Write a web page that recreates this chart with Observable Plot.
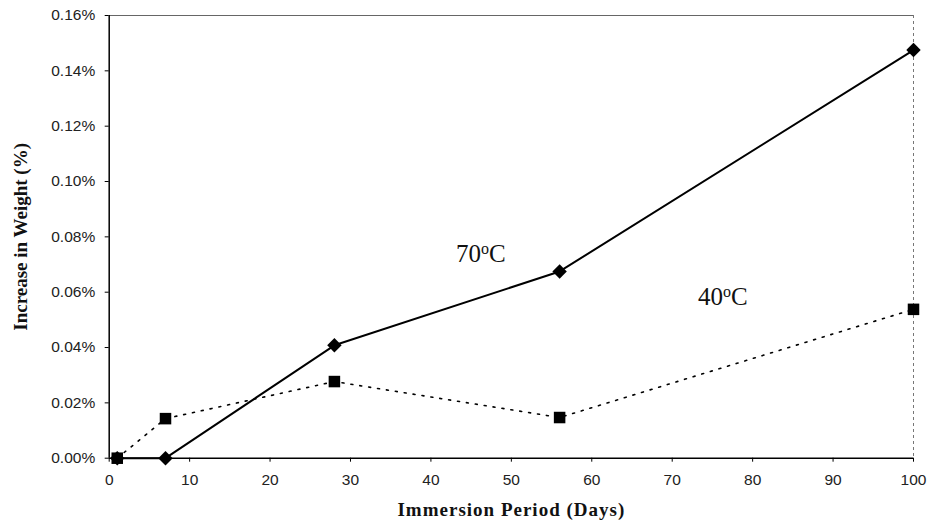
<!DOCTYPE html>
<html>
<head>
<meta charset="utf-8">
<script src="https://cdn.jsdelivr.net/npm/d3@7"></script>
<script src="https://cdn.jsdelivr.net/npm/@observablehq/plot@0.6"></script>
<style>
  html, body { margin: 0; padding: 0; background: #fff; }
</style>
</head>
<body>
<div id="chart"></div>
<script>
// Immersion period (days) and weight increase (%)
const days70 = [1, 7, 28, 56, 100];
const gain70 = [0, 0, 0.0408, 0.0675, 0.1475];
const days40 = [1, 7, 28, 56, 100];
const gain40 = [0, 0.0143, 0.0277, 0.0147, 0.0538];
const xTicks = [0, 10, 20, 30, 40, 50, 60, 70, 80, 90, 100];
const yTicks = [0, 0.02, 0.04, 0.06, 0.08, 0.10, 0.12, 0.14, 0.16];
const seriesLabels = [
  {name: "70", x: 46.2, y: 0.0738},
  {name: "40", x: 76.3, y: 0.0582}
];
const xTitle = "Immersion Period (Days)";
const yTitle = "Increase in Weight (%)";

const s70 = days70.map((d, i) => ({day: d, gain: gain70[i]}));
const s40 = days40.map((d, i) => ({day: d, gain: gain40[i]}));

const serif = "'Liberation Serif', 'Times New Roman', serif";
const sans = "'Liberation Sans', Arial, sans-serif";

const chart = Plot.plot({
  width: 930,
  height: 531,
  marginLeft: 108.7,
  marginRight: 17,
  marginTop: 15,
  marginBottom: 73.3,
  style: {fontFamily: sans, fontSize: "15.5px", color: "#222", background: "#fff"},
  x: {domain: [0, 100], ticks: xTicks},
  y: {domain: [0, 0.16], ticks: yTicks},
  marks: [
    Plot.axisX({ticks: xTicks, tickSize: 4, tickPadding: 12, label: null, fontSize: 15.5, stroke: "#000"}),
    Plot.axisY({ticks: yTicks, tickSize: 4, tickPadding: 10, label: null, fontSize: 15.5, stroke: "#000",
      tickFormat: d => d.toFixed(2) + "%"}),
    Plot.ruleY([0.16], {stroke: "#666", strokeWidth: 1}),
    Plot.ruleX([100], {stroke: "#777", strokeWidth: 1, strokeDasharray: "3,3"}),
    Plot.ruleX([0], {stroke: "#000", strokeWidth: 1.5}),
    Plot.ruleY([0], {stroke: "#000", strokeWidth: 1.5}),
    Plot.line(s40, {x: "day", y: "gain", stroke: "#000", strokeWidth: 1.6, strokeDasharray: "2,7", strokeLinecap: "round"}),
    Plot.line(s70, {x: "day", y: "gain", stroke: "#000", strokeWidth: 2}),
    Plot.dot(s70, {x: "day", y: "gain", symbol: "diamond2", r: 6.5, fill: "#000", stroke: "none"}),
    Plot.dot(s40, {x: "day", y: "gain", symbol: "square", r: 6.5, fill: "#000", stroke: "none"}),
    Plot.text(seriesLabels, {x: "x", y: "y", text: d => d.name + "oC", fontFamily: serif, fontSize: 25, fill: "#111", className: "serieslabel"}),
    Plot.text([xTitle], {frameAnchor: "bottom", dy: 58, fontFamily: serif, fontWeight: "bold", fontSize: 19, fill: "#111", className: "xtitle"}),
    Plot.text([yTitle], {frameAnchor: "left", textAnchor: "middle", dx: -88, rotate: -90, fontFamily: serif, fontWeight: "bold", fontSize: 19, fill: "#111"})
  ]
});

d3.select(chart).selectAll("g.xtitle text").style("letter-spacing", "1px");

// Render the degree "o" as a superscript
d3.select(chart).selectAll("g.serieslabel text").each(function() {
  const t = d3.select(this);
  const s = t.text();
  const num = s.replace("oC", "");
  t.text(null);
  t.append("tspan").text(num);
  t.append("tspan").attr("dy", "-8").attr("font-size", "16").text("o");
  t.append("tspan").attr("dy", "8").text("C");
});

document.getElementById("chart").appendChild(chart);
</script>
</body>
</html>
